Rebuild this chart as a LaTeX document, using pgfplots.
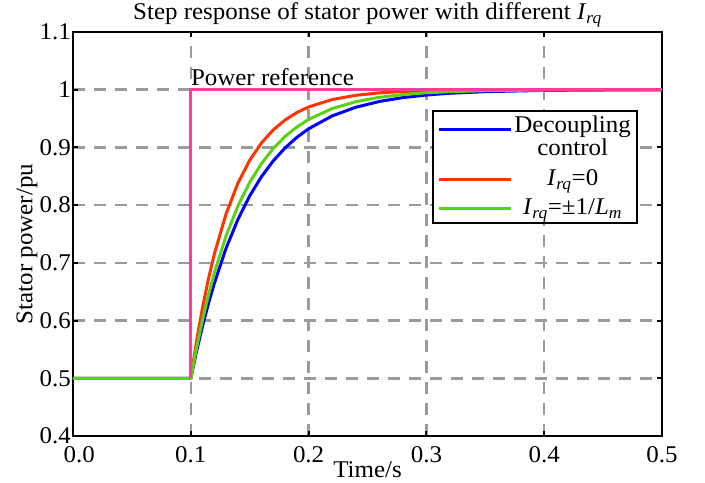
\documentclass[border=0pt]{standalone}
\usepackage{fontspec}
\setmainfont{Liberation Serif}[FakeStretch=1.04]
\usepackage{pgfplots}
\pgfplotsset{compat=1.18}
\definecolor{cblue}{RGB}{0,0,255}
\definecolor{cred}{RGB}{255,51,0}
\definecolor{cgreen}{RGB}{90,210,20}
\definecolor{cpink}{RGB}{255,60,150}
\definecolor{gridgray}{RGB}{155,155,155}

\begin{document}
\fontsize{24}{26}\selectfont
\begin{tikzpicture}
\begin{axis}[
    scale only axis, width=589pt, height=404pt,
    xmin=0, xmax=0.5, ymin=0.4, ymax=1.1,
    xtick={0,0.1,0.2,0.3,0.4,0.5},
    xticklabels={\hphantom{0}0.0,0.1,0.2,0.3,0.4,0.5},
    ytick={0.4,0.5,0.6,0.7,0.8,0.9,1,1.1},
    yticklabels={0.4,0.5,0.6,0.7,0.8,0.9,1,1.1},
    tick align=inside, major tick length=5pt,
    every tick/.style={black, line width=2pt},
    axis line style={line width=2.5pt},
    grid=major,
    grid style={gridgray, line width=2.5pt, dash pattern=on 12pt off 9pt},
    xticklabel style={yshift=-2pt},
    yticklabel style={inner sep=2pt},
    title={Step response of stator power with different \textit{I}\textsubscript{\textit{rq}}},
    title style={at={(rel axis cs:0.5,1)}, anchor=base, yshift=6pt, inner sep=0pt},
    xlabel={Time/s},
    xlabel style={at={(rel axis cs:0.5,0)}, anchor=base, yshift=-42pt},
    ylabel={Stator power/pu},
    ylabel style={at={(rel axis cs:-0.078,0.475)}, anchor=center},
    legend cell align=center,
    legend style={at={(rel axis cs:0.959,0.808)}, anchor=north east,
        draw=black, line width=2pt, fill=white, inner xsep=4pt, inner ysep=3pt,
        row sep=6pt},
    legend image code/.code={\draw[#1] (0pt,0pt) -- (72pt,0pt);},
]
\addplot[cblue, line width=3pt, legend image post style={yshift=8pt}] coordinates {
(0,0.5)(0.1,0.5)(0.105,0.5476)(0.11,0.5906)(0.115,0.6296)(0.12,0.6648)
(0.13,0.7256)(0.14,0.7753)(0.15,0.8161)(0.16,0.8494)(0.17,0.8767)
(0.18,0.8991)(0.19,0.9174)(0.2,0.9323)(0.22,0.9546)(0.24,0.9696)
(0.26,0.9796)(0.28,0.9863)(0.3,0.9908)(0.32,0.9939)(0.35,0.9966)
(0.4,0.9988)(0.45,0.9995)(0.5,0.9998)
};
\addlegendentry{{\renewcommand\arraystretch{0.88}\begin{tabular}[b]{@{}c@{}}Decoupling\\control\end{tabular}}}
\addplot[cred, line width=3pt] coordinates {
(0,0.5)(0.1,0.5)(0.105,0.5657)(0.11,0.6228)(0.115,0.6723)(0.12,0.7154)
(0.13,0.7852)(0.14,0.8380)(0.15,0.8778)(0.16,0.9078)(0.17,0.9304)
(0.18,0.9475)(0.19,0.9604)(0.2,0.9701)(0.22,0.9830)(0.24,0.9903)
(0.26,0.9945)(0.28,0.9969)(0.3,0.9982)(0.32,0.9990)(0.35,0.9996)
(0.4,0.9999)(0.5,1.0)
};
\addlegendentry{\textit{I}\textsubscript{\textit{rq}}=0}
\addplot[cgreen, line width=3pt] coordinates {
(0,0.5)(0.1,0.5)(0.105,0.5537)(0.11,0.6016)(0.115,0.6444)(0.12,0.6826)
(0.13,0.7472)(0.14,0.7985)(0.15,0.8395)(0.16,0.8721)(0.17,0.8981)
(0.18,0.9189)(0.19,0.9353)(0.2,0.9485)(0.22,0.9673)(0.24,0.9792)
(0.26,0.9868)(0.28,0.9916)(0.3,0.9947)(0.32,0.9966)(0.35,0.9983)
(0.4,0.9995)(0.45,0.9998)(0.5,1.0)
};
\addlegendentry{\textit{I}\textsubscript{\textit{rq}}=±1/\textit{L}\textsubscript{\textit{m}}}
\addplot[cpink, line width=3pt, forget plot] coordinates {
(0.1,0.5)(0.1,1.0)(0.5,1.0)
};
\node[anchor=base west, inner sep=0pt] at (axis cs:0.1,1) [yshift=4pt] {Power reference};
\coordinate (bl) at (rel axis cs:0,0);
\coordinate (tr) at (rel axis cs:1,1);
\end{axis}
\pgfresetboundingbox
\path ([shift={(-73pt,-47pt)}]bl) rectangle ([shift={(43pt,32pt)}]tr);
\end{tikzpicture}
\end{document}
